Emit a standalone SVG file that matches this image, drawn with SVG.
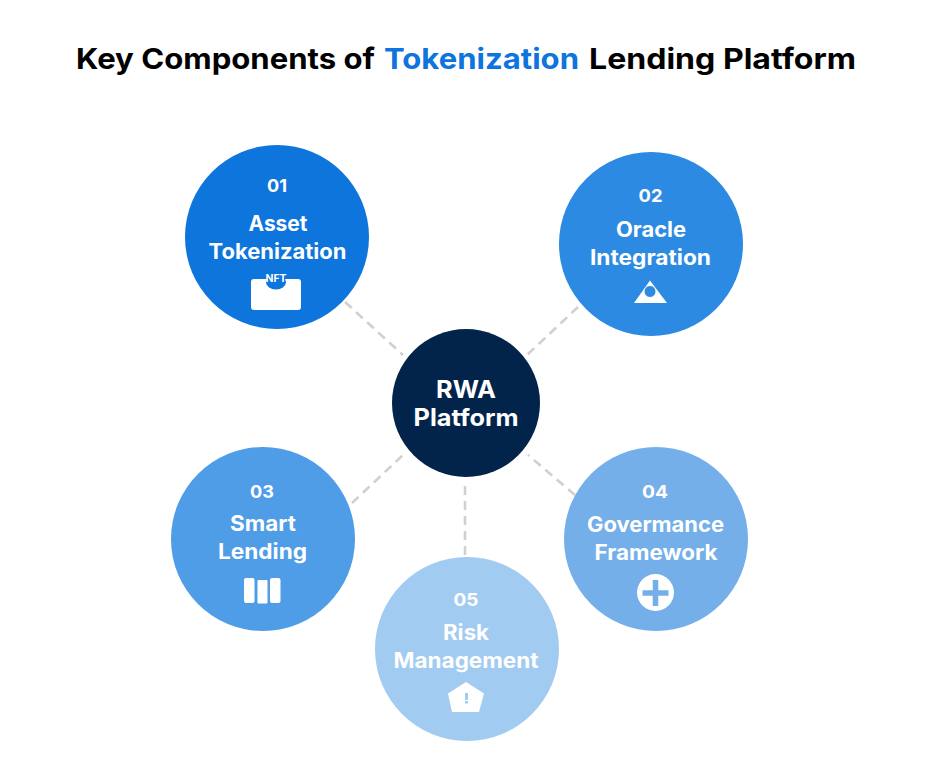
<svg xmlns="http://www.w3.org/2000/svg" width="931" height="772" viewBox="0 0 931 772">
<style>
text{font-family:"Inter","Liberation Sans",sans-serif;font-weight:700;fill:#fff;text-anchor:middle}
.h{font-size:29px;fill:#000;text-anchor:start}
.t{font-size:21px;font-weight:700}
.n{font-size:18px;font-weight:700}
.c{stroke:#d0d0d0;stroke-width:2.6;stroke-dasharray:9 6;fill:none}
.w{fill:#fff}
</style>
<rect width="931" height="772" fill="#fff"/>
<text class="h" x="76" y="69" textLength="299" lengthAdjust="spacingAndGlyphs">Key Components of</text>
<text class="h" x="384" y="69" textLength="195" lengthAdjust="spacingAndGlyphs" style="fill:#0d75dc">Tokenization</text>
<text class="h" x="589" y="69" textLength="267" lengthAdjust="spacingAndGlyphs">Lending Platform</text>
<g id="connectors">
<line class="c" x1="345" y1="302" x2="403" y2="355"/>
<line class="c" x1="578" y1="307" x2="527" y2="355"/>
<line class="c" x1="352" y1="503" x2="403" y2="455"/>
<line class="c" x1="575" y1="495" x2="528" y2="455"/>
<line class="c" x1="465" y1="486" x2="465" y2="557"/>
</g>
<g id="node-center"><circle cx="466" cy="403" r="74" fill="#02234a"/>
<text x="466" y="398" style="font-size:24px" textLength="60" lengthAdjust="spacingAndGlyphs">RWA</text><text x="466" y="426" style="font-size:24px" textLength="105" lengthAdjust="spacingAndGlyphs">Platform</text></g>
<g id="node-01"><circle cx="277" cy="237" r="92" fill="#0d75dc"/>
<text class="n" x="277" y="192" textLength="20" lengthAdjust="spacingAndGlyphs">01</text>
<text class="t" x="278" y="230.500" textLength="59" lengthAdjust="spacingAndGlyphs">Asset</text><text class="t" x="277.500" y="258.500" textLength="138" lengthAdjust="spacingAndGlyphs">Tokenization</text>
<rect class="w" x="251" y="279" width="50" height="31" rx="3"/><ellipse cx="276" cy="282" rx="10" ry="7.500" fill="#0d75dc"/>
<text x="276" y="282" style="font-size:10px" textLength="21" lengthAdjust="spacingAndGlyphs">NFT</text></g>
<g id="node-02"><circle cx="651" cy="244" r="92" fill="#2d8ae2"/>
<text class="n" x="650.500" y="202" textLength="24" lengthAdjust="spacingAndGlyphs">02</text>
<text class="t" x="651" y="237" textLength="70" lengthAdjust="spacingAndGlyphs">Oracle</text><text class="t" x="650.500" y="265" textLength="121" lengthAdjust="spacingAndGlyphs">Integration</text>
<polygon class="w" points="650,280.500 667,303 634,303"/><circle cx="650" cy="291.500" r="6" fill="#2d8ae2" stroke="#fff" stroke-width="1"/></g>
<g id="node-03"><circle cx="263" cy="539" r="92" fill="#4f9ce7"/>
<text class="n" x="262" y="498" textLength="24" lengthAdjust="spacingAndGlyphs">03</text>
<text class="t" x="263" y="530.500" textLength="66" lengthAdjust="spacingAndGlyphs">Smart</text><text class="t" x="262.500" y="558.500" textLength="89" lengthAdjust="spacingAndGlyphs">Lending</text>
<rect class="w" x="244" y="578" width="10.500" height="25" rx="2"/><rect class="w" x="257.500" y="580" width="10" height="23.500" rx="1"/><rect class="w" x="270" y="578" width="10.500" height="25" rx="2"/></g>
<g id="node-04"><circle cx="656" cy="539" r="92" fill="#74afea"/>
<text class="n" x="655" y="498" textLength="26" lengthAdjust="spacingAndGlyphs">04</text>
<text class="t" x="655.500" y="532" textLength="137" lengthAdjust="spacingAndGlyphs">Govermance</text><text class="t" x="656" y="560" textLength="123" lengthAdjust="spacingAndGlyphs">Framework</text>
<circle class="w" cx="655.500" cy="592.500" r="18.500"/><path d="M655.500 580V606M642.500 593H668.500" stroke="#74afea" stroke-width="5.500" fill="none"/></g>
<g id="node-05"><circle cx="467" cy="649" r="92" fill="#a2cbf1"/>
<text class="n" x="466" y="606" textLength="25" lengthAdjust="spacingAndGlyphs">05</text>
<text class="t" x="466" y="640" textLength="46" lengthAdjust="spacingAndGlyphs">Risk</text><text class="t" x="466" y="668" textLength="145" lengthAdjust="spacingAndGlyphs">Management</text>
<polygon class="w" points="466,682 484,693.500 479,712 452,712 448,693.500"/>
<rect x="465" y="693" width="3" height="7" fill="#a2cbf1"/><rect x="465" y="701" width="3" height="2.500" fill="#a2cbf1"/></g>
</svg>
